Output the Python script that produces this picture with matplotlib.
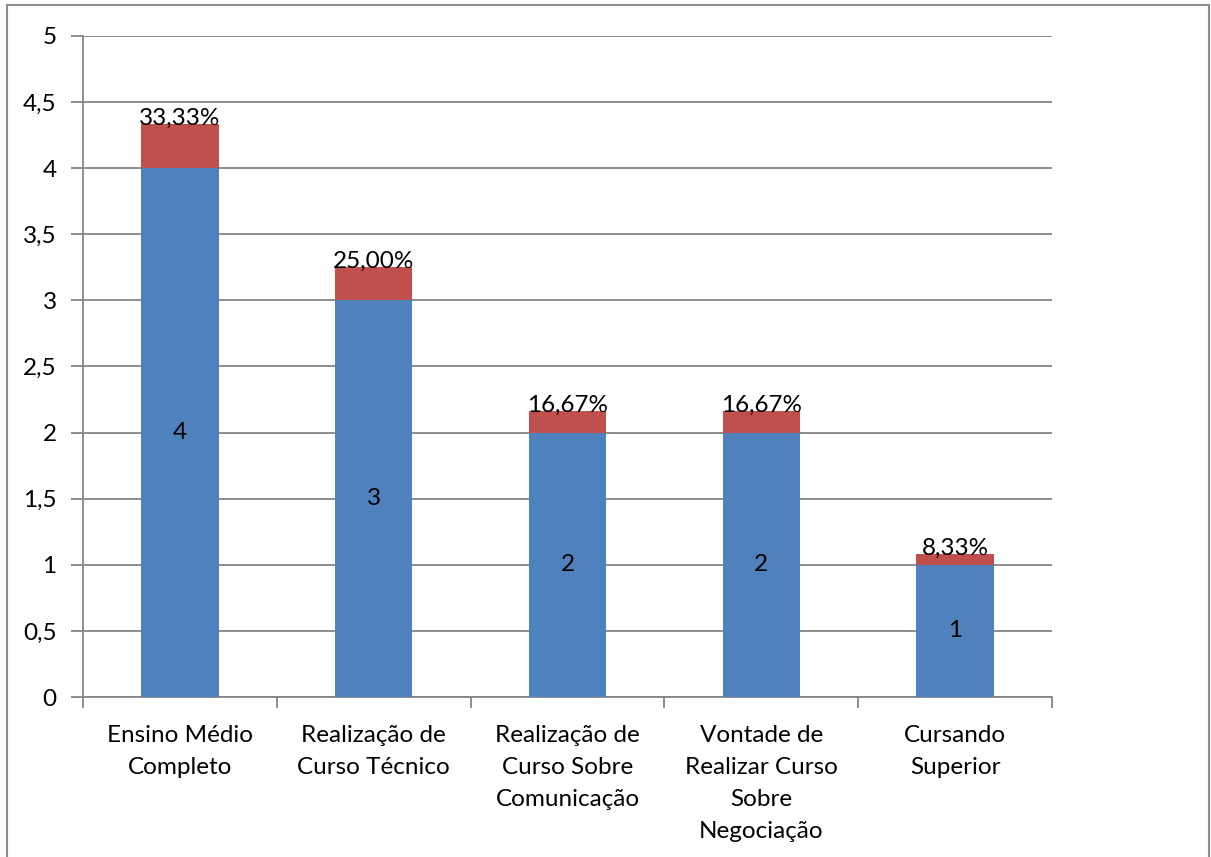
import matplotlib
matplotlib.use("Agg")
import matplotlib.pyplot as plt
from matplotlib.patches import Rectangle

plt.rcParams['font.family'] = ['Lato', 'DejaVu Sans']

# Data
categorias = ["Ensino Médio\nCompleto", "Realização de\nCurso Técnico",
              "Realização de\nCurso Sobre\nComunicação",
              "Vontade de\nRealizar Curso\nSobre\nNegociação",
              "Cursando\nSuperior"]
quantidade = [4, 3, 2, 2, 1]
percentual = [0.3333, 0.25, 0.1667, 0.1667, 0.0833]
yticks = [0, 0.5, 1, 1.5, 2, 2.5, 3, 3.5, 4, 4.5, 5]

azul = '#4F81BD'
vermelho = '#C0504D'
grade = '#868686'
fs = 17.5

fig = plt.figure(figsize=(12.11, 8.57), dpi=100)
ax = fig.add_axes([83 / 1211, 1 - 697 / 857, (1052 - 83) / 1211, (697 - 36) / 857])

# Gray frame around the chart (bottom edge falls outside the image)
fig.patches.append(Rectangle((7 / 1211, -10 / 857), 1202 / 1211, 862 / 857,
                             transform=fig.transFigure, fill=False,
                             edgecolor='#8C8C8C', linewidth=1.5))

x = list(range(len(categorias)))
ax.bar(x, quantidade, width=0.4, color=azul, zorder=3)
ax.bar(x, percentual, width=0.4, bottom=quantidade, color=vermelho, zorder=3)

for i in x:
    ax.text(i, quantidade[i] / 2, str(quantidade[i]), ha='center', va='center',
            fontsize=fs, zorder=4)
    topo = quantidade[i] + percentual[i]
    rotulo = ('%.2f%%' % (percentual[i] * 100)).replace('.', ',')
    ax.annotate(rotulo, (i, topo), xytext=(0, 4), textcoords='offset points',
                ha='center', va='center', fontsize=fs, zorder=4)

ax.set_xlim(-0.5, len(categorias) - 0.5)
ax.set_ylim(0, 5)
ax.set_yticks(yticks)
ax.set_yticklabels([('%g' % v).replace('.', ',') for v in yticks], fontsize=fs)
ax.yaxis.grid(True, color=grade, linewidth=1.3, zorder=0)
ax.tick_params(axis='y', length=9, width=1.3, color=grade, pad=10)

# x ticks between categories, labels centred under bars
ax.set_xticks([i - 0.5 for i in range(len(categorias) + 1)])
ax.set_xticklabels([])
ax.set_xticks(x, minor=True)
ax.set_xticklabels(categorias, minor=True, fontsize=fs, linespacing=1.65, va='top')
ax.tick_params(axis='x', which='major', length=8, width=1.3, color=grade)
ax.tick_params(axis='x', which='minor', length=0, pad=20)

for s in ['top', 'right']:
    ax.spines[s].set_visible(False)
for s in ['left', 'bottom']:
    ax.spines[s].set_color(grade)
    ax.spines[s].set_linewidth(1.3)

fig.savefig('out.png', dpi=100)
